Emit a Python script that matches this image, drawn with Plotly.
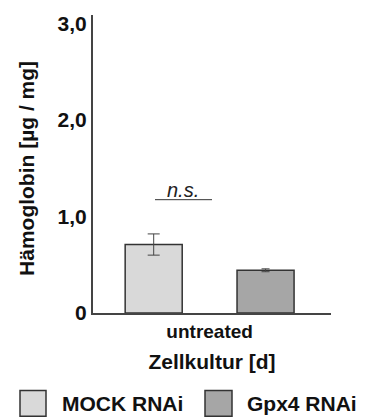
import plotly.graph_objects as go

# Hämoglobin content per condition
groups = ["untreated"]
series_names = ["MOCK RNAi", "Gpx4 RNAi"]
mock_values = [0.71]
mock_errors = [0.11]
gpx4_values = [0.443]
gpx4_errors = [0.015]
y_tickvals = [0, 1, 2, 3]
y_ticktext = ["0", "1,0", "2,0", "3,0"]

FONT = "Liberation Sans, Arial, sans-serif"
fill_colors = ["#d9d9d9", "#a6a6a6"]
edge = "#333333"
W, H = 372, 419
ML, MR, MT, MB = 93, 41, 13, 106

fig = go.Figure()
for name, vals, errs, color, cap in [
    (series_names[0], mock_values, mock_errors, fill_colors[0], 6),
    (series_names[1], gpx4_values, gpx4_errors, fill_colors[1], 4),
]:
    fig.add_trace(go.Bar(
        x=groups, y=vals, name=name,
        marker=dict(color=color, line=dict(color=edge, width=1.5)),
        error_y=dict(type="data", array=errs, color="#444444", thickness=1, width=cap),
        showlegend=False,
    ))

# significance bracket
fig.add_shape(type="line", xref="x", yref="y", x0=-0.2295, x1=0.01, y0=1.175, y1=1.175,
              line=dict(color="#333333", width=1))
fig.add_annotation(x=-0.11, y=1.175, xref="x", yref="y", text="n.s.", showarrow=False,
                   yanchor="bottom", yshift=-3,
                   font=dict(family=FONT, size=20, style="italic", color="#222222"))

pw, ph = W - ML - MR, H - MT - MB
def px_x(p):
    return (p - ML) / pw
def px_y(p):
    return (H - MB - p) / ph

# y-axis title
fig.add_annotation(x=px_x(27), y=px_y(168), xref="paper", yref="paper",
                   text="Hämoglobin [µg / mg]", textangle=-90, showarrow=False,
                   xanchor="center", yanchor="middle",
                   font=dict(family=FONT, size=21, weight="bold", color="#111111"))

# legend swatches
for (x0, x1, tx), name, color in zip([(20, 46, 60), (205, 232, 245)], series_names, fill_colors):
    fig.add_shape(type="rect", xref="paper", yref="paper",
                  x0=px_x(x0), x1=px_x(x1), y0=px_y(417), y1=px_y(391),
                  fillcolor=color, line=dict(color=edge, width=1.5))
    fig.add_annotation(x=px_x(tx), y=px_y(404), xref="paper", yref="paper", text=name,
                       showarrow=False, xanchor="left", yanchor="middle",
                       font=dict(family=FONT, size=21, weight="bold", color="#111111"))

fig.update_layout(
    width=W, height=H,
    margin=dict(l=ML, r=MR, t=MT, b=MB),
    paper_bgcolor="white", plot_bgcolor="white",
    barmode="group", bargap=0.06, bargroupgap=0.49,
    font=dict(family=FONT, color="#111111"),
    xaxis=dict(range=[-0.49, 0.51], showline=True, linecolor="#444444", linewidth=2,
               ticks="", showgrid=False, zeroline=False,
               tickfont=dict(family=FONT, size=19, weight="bold"),
               title=dict(text="Zellkultur [d]", standoff=14,
                          font=dict(family=FONT, size=21, weight="bold"))),
    yaxis=dict(range=[0, 3.09], showline=True, linecolor="#444444", linewidth=2,
               ticks="", showgrid=False, zeroline=False,
               tickvals=y_tickvals, ticktext=y_ticktext,
               tickfont=dict(family=FONT, size=21, weight="bold")),
)

fig.write_html("out.html")
